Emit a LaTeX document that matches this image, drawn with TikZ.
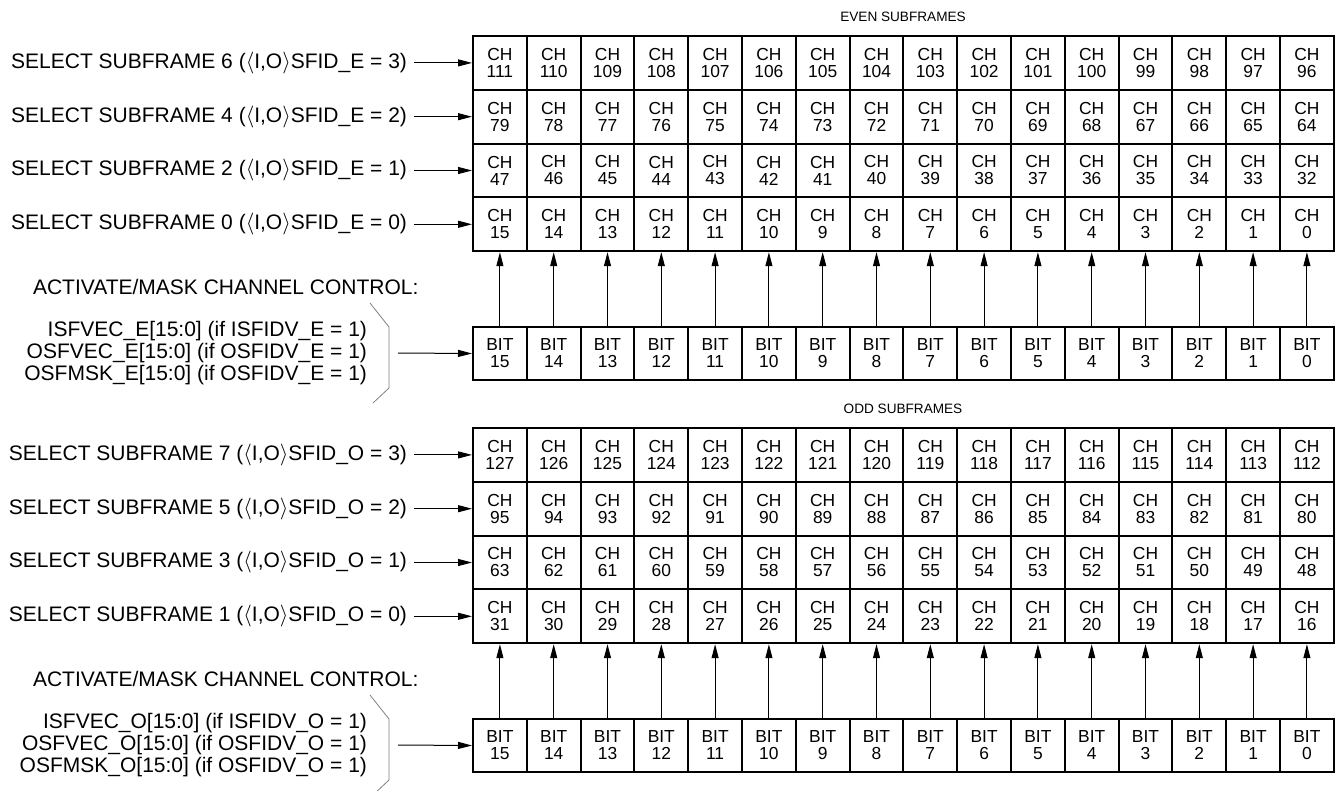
\documentclass[tikz,border=0pt]{standalone}
\usepackage{fontspec}
\setmainfont{Liberation Sans}
\usetikzlibrary{arrows.meta}

\begin{document}
\begin{tikzpicture}[
    x=0.5pt, y=-0.5pt,
    every node/.style={font=\fontsize{10.5}{11.2}\selectfont},
    cell/.style={draw, line width=1pt, minimum width=26.9pt, minimum height=26.9pt, inner sep=0pt, align=center, font=\fontsize{8.7}{8.5}\selectfont},
    sellabel/.style={anchor=east},
    ctllabel/.style={anchor=east, align=right},
    title/.style={font=\fontsize{6.8}{8}\selectfont},
    arrow/.style={-{Triangle[length=7pt, width=3.5pt]}, line width=0.5pt},
    bracket/.style={draw=gray, line width=0.4pt}
]
    \useasboundingbox (0,0) rectangle (1342,791);

    \foreach \s/\sfx/\sect in {0/E/EVEN, 1/O/ODD} {
      \pgfmathsetmacro{\dy}{392*\s}

      % Section title
      \node (title-\s) [title] at (903, 17+\dy) {\sect\ SUBFRAMES};

      % Channel grid and subframe selects
      \foreach \r in {0,...,3} {
        \pgfmathtruncatemacro{\sub}{2*(3-\r)+\s}
        \pgfmathtruncatemacro{\val}{3-\r}
        \foreach \c in {0,...,15} {
          \pgfmathtruncatemacro{\ch}{32*(3-\r)+16*\s+15-\c}
          \node (ch-\s-\r-\c) [cell] at (499.9+53.8*\c, 62.9+53.8*\r+\dy) {CH\\\ch};
        }
        \node (sel-\s-\r) [sellabel] at (414, 62.9+53.8*\r+\dy) {SELECT SUBFRAME \sub\ ($\langle$I,O$\rangle$SFID\_\sfx\ = \val)};
        \draw [arrow] (sel-\s-\r.east) -- (ch-\s-\r-0.west);
      }

      % Bit row
      \foreach \c in {0,...,15} {
        \pgfmathtruncatemacro{\b}{15-\c}
        \node (bit-\s-\c) [cell] at (499.9+53.8*\c, 353.5+\dy) {BIT\\\b};
        \draw [arrow] (bit-\s-\c.north) -- (ch-\s-3-\c.south);
      }

      % Activate/mask control
      \node (act-\s) [anchor=west] at (26, 287+\dy) {ACTIVATE/MASK CHANNEL CONTROL:};
      \node (ctl-\s) [ctllabel] at (374, 353+\dy) {ISFVEC\_\sfx[15:0] (if ISFIDV\_\sfx\ = 1)\\OSFVEC\_\sfx[15:0] (if OSFIDV\_\sfx\ = 1)\\OSFMSK\_\sfx[15:0] (if OSFIDV\_\sfx\ = 1)};
      \draw [bracket] (370, 303+\dy) -- (389, 327+\dy) -- (389, 388+\dy) -- (373, 403+\dy);
      \coordinate (ctltip-\s) at (398, 353+\dy);
      \draw [arrow] (ctltip-\s) -- (bit-\s-0.west);
    }
\end{tikzpicture}
\end{document}
